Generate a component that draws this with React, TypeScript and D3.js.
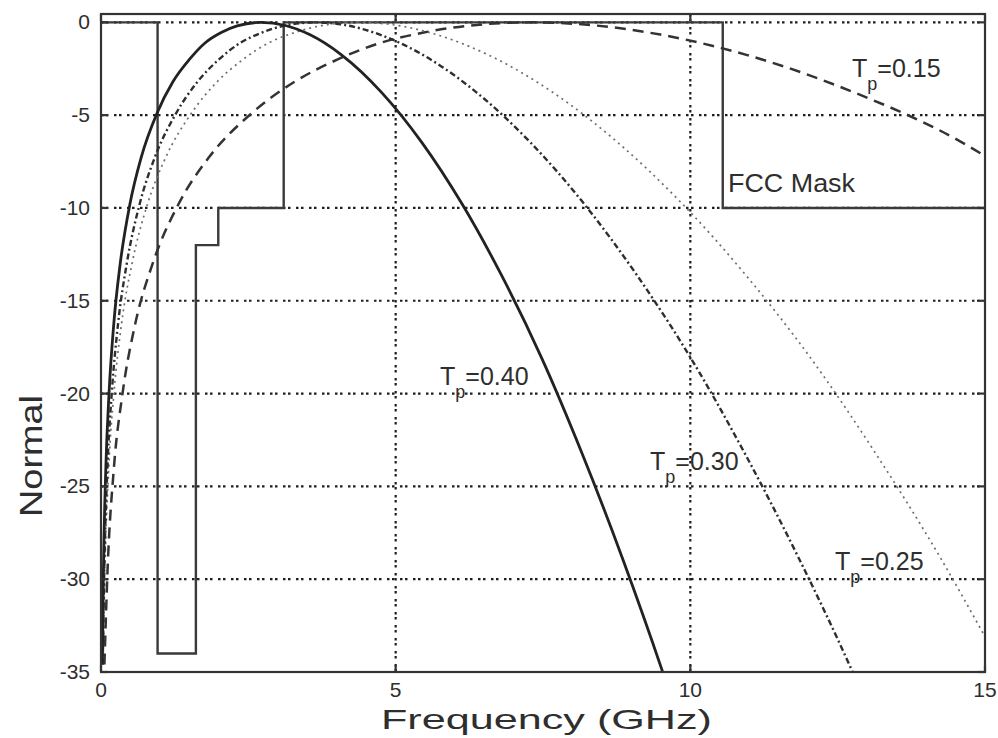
import * as d3 from 'd3';
import React, { useRef, useEffect } from 'react';

// FCC mask steps (GHz, normalised dB)
const maskFreq = [0, 0.96, 0.96, 1.61, 1.61, 1.99, 1.99, 3.1, 3.1, 10.55, 10.55, 15];
const maskLevel = [0, 0, -34, -34, -12, -12, -10, -10, 0, 0, -10, -10];

// Tp = 0.40 (solid)
const freq40 = [0.022, 0.041, 0.082, 0.136, 0.218, 0.326, 0.49, 0.68, 0.95, 1.22, 1.5, 1.77, 2.04, 2.31, 2.72, 3.13, 3.54, 4.08, 4.76, 5.44, 6.12, 6.8, 7.48, 8.16, 8.84, 9.52, 9.79];
const level40 = [-34.6, -29.6, -24.0, -20.0, -16.2, -13.0, -9.8, -7.3, -4.9, -3.2, -2.0, -1.1, -0.55, -0.19, 0, -0.17, -0.66, -1.75, -3.77, -6.45, -9.75, -13.65, -18.1, -23.2, -28.8, -34.9, -37.5];

// Tp = 0.30 (dash-dot)
const freq30 = [0.029, 0.055, 0.109, 0.182, 0.291, 0.437, 0.655, 0.91, 1.274, 1.638, 2.0, 2.366, 2.73, 3.094, 3.64, 4.186, 4.732, 5.46, 6.37, 7.28, 8.19, 9.1, 10.01, 10.92, 11.83, 12.74, 13.1];
const level30 = [-34.6, -29.6, -24.0, -20.0, -16.2, -13.0, -9.8, -7.3, -4.9, -3.2, -2.0, -1.1, -0.55, -0.19, 0, -0.17, -0.66, -1.75, -3.77, -6.45, -9.75, -13.65, -18.1, -23.2, -28.8, -34.9, -37.5];

// Tp = 0.25 (dotted)
const freq25 = [0.035, 0.066, 0.131, 0.219, 0.35, 0.526, 0.788, 1.095, 1.533, 1.971, 2.409, 2.847, 3.285, 3.723, 4.38, 5.037, 5.694, 6.57, 7.665, 8.76, 9.855, 10.95, 12.045, 13.14, 14.235, 15];
const level25 = [-34.6, -29.6, -24.0, -20.0, -16.2, -13.0, -9.8, -7.3, -4.9, -3.2, -2.0, -1.1, -0.55, -0.19, 0, -0.17, -0.66, -1.75, -3.77, -6.45, -9.75, -13.65, -18.1, -23.2, -28.8, -33.1];

// Tp = 0.15 (dashed)
const freq15 = [0.058, 0.11, 0.219, 0.365, 0.584, 0.876, 1.314, 1.825, 2.555, 3.285, 4.015, 4.745, 5.475, 6.205, 7.3, 8.395, 9.49, 10.95, 12.775, 14.6, 15];
const level15 = [-34.6, -29.6, -24.0, -20.0, -16.2, -13.0, -9.8, -7.3, -4.9, -3.2, -2.0, -1.1, -0.55, -0.19, 0, -0.17, -0.66, -1.75, -3.77, -6.45, -7.2];

const xTicks = [0, 5, 10, 15];
const yTicks = [0, -5, -10, -15, -20, -25, -30, -35];

const App = () => {
    const svgRef = useRef<SVGSVGElement | null>(null);

    useEffect(() => {
        const width = 998;
        const height = 738;
        const left = 101, right = 985, top = 14, bottom = 672;

        const svg = d3.select(svgRef.current);
        svg.selectAll('*').remove();
        svg.attr('width', width).attr('height', height);

        const x = d3.scaleLinear().domain([0, 15]).range([left, right]);
        const y = d3.scaleLinear().domain([-35, 0.45]).range([bottom, top]);

        svg.append('rect').attr('width', width).attr('height', height).attr('fill', '#fff');

        svg.append('defs').append('clipPath').attr('id', 'plot')
            .append('rect')
            .attr('x', left).attr('y', top)
            .attr('width', right - left).attr('height', bottom - top);

        // dotted grid
        const grid = svg.append('g')
            .attr('stroke', '#1e1e1e')
            .attr('stroke-width', 2.2)
            .attr('stroke-dasharray', '2.5,2.5,2.5,5.5');
        grid.selectAll('.gy').data(yTicks.filter((d) => d > -35)).enter().append('line')
            .attr('x1', left).attr('x2', right)
            .attr('y1', (d) => y(d)).attr('y2', (d) => y(d));
        grid.selectAll('.gx').data(xTicks.filter((d) => d > 0 && d < 15)).enter().append('line')
            .attr('y1', top).attr('y2', bottom)
            .attr('x1', (d) => x(d)).attr('x2', (d) => x(d));

        const line = d3.line<[number, number]>()
            .x((d) => x(d[0]))
            .y((d) => y(d[1]));
        const smooth = d3.line<[number, number]>()
            .x((d) => x(d[0]))
            .y((d) => y(d[1]))
            .curve(d3.curveMonotoneX);

        const plot = svg.append('g').attr('clip-path', 'url(#plot)').attr('fill', 'none');

        // FCC mask
        plot.append('path')
            .attr('d', line(maskFreq.map((f, i) => [f, maskLevel[i]] as [number, number])))
            .attr('stroke', '#3a3a3a')
            .attr('stroke-width', 2.4);

        const series = [
            { f: freq15, v: level15, color: '#333', w: 2.5, dash: '11,7' },
            { f: freq25, v: level25, color: '#6e6e6e', w: 1.7, dash: '2,4' },
            { f: freq30, v: level30, color: '#2e2e2e', w: 2.4, dash: '6,3,2,3' },
            { f: freq40, v: level40, color: '#222', w: 2.8, dash: null },
        ];
        series.forEach((s) => {
            plot.append('path')
                .attr('d', smooth(s.f.map((f, i) => [f, s.v[i]] as [number, number])))
                .attr('stroke', s.color)
                .attr('stroke-width', s.w)
                .attr('stroke-dasharray', s.dash);
        });

        // frame and inward ticks
        const axes = svg.append('g').attr('stroke', '#333').attr('stroke-width', 2.2);
        axes.append('rect')
            .attr('x', left).attr('y', top)
            .attr('width', right - left).attr('height', bottom - top)
            .attr('fill', 'none');
        yTicks.forEach((t) => {
            axes.append('line').attr('x1', left).attr('x2', left + 7).attr('y1', y(t)).attr('y2', y(t));
            axes.append('line').attr('x1', right).attr('x2', right - 7).attr('y1', y(t)).attr('y2', y(t));
        });
        xTicks.forEach((t) => {
            axes.append('line').attr('x1', x(t)).attr('x2', x(t)).attr('y1', bottom).attr('y2', bottom - 7);
            axes.append('line').attr('x1', x(t)).attr('x2', x(t)).attr('y1', top).attr('y2', top + 7);
        });

        const font = 'Liberation Sans, Arial, sans-serif';
        const txt = svg.append('g').attr('font-family', font).attr('fill', '#2e2e2e');

        txt.selectAll('.yl').data(yTicks).enter().append('text')
            .attr('x', left - 11)
            .attr('y', (d) => y(d) + 7)
            .attr('text-anchor', 'end')
            .attr('font-size', 21)
            .text((d) => d);

        txt.selectAll('.xl').data(xTicks).enter().append('text')
            .attr('x', (d) => x(d))
            .attr('y', 697)
            .attr('text-anchor', 'middle')
            .attr('font-size', 21)
            .text((d) => d);

        txt.append('text')
            .attr('x', 381).attr('y', 729)
            .attr('font-size', 28)
            .attr('textLength', 331)
            .attr('lengthAdjust', 'spacingAndGlyphs')
            .text('Frequency (GHz)');

        txt.append('text')
            .attr('transform', 'translate(42, 517) rotate(-90)')
            .attr('font-size', 32)
            .attr('textLength', 122)
            .attr('lengthAdjust', 'spacingAndGlyphs')
            .text('Normal');

        txt.append('text')
            .attr('x', 728).attr('y', 192)
            .attr('font-size', 25)
            .attr('textLength', 127)
            .attr('lengthAdjust', 'spacingAndGlyphs')
            .text('FCC Mask');

        // Tp labels
        const labels = [
            { x: 440, y: 385, value: '0.40' },
            { x: 650, y: 470, value: '0.30' },
            { x: 835, y: 570, value: '0.25' },
            { x: 852, y: 77, value: '0.15' },
        ];
        labels.forEach((l) => {
            const t = txt.append('text').attr('x', l.x).attr('y', l.y).attr('font-size', 25);
            t.append('tspan').text('T');
            t.append('tspan').attr('dy', 13).attr('font-size', 18).text('p');
            t.append('tspan').attr('dy', -13).text('=' + l.value);
        });
    }, []);

    return (
        <svg ref={svgRef} style={{ position: 'absolute', left: 0, top: 0 }}></svg>
    );
};

export default App;
